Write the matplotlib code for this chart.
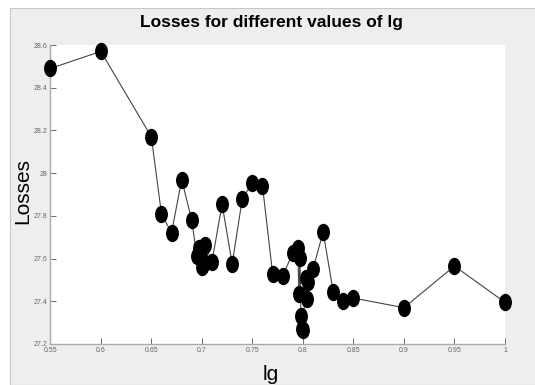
import matplotlib
matplotlib.use("Agg")
import matplotlib.pyplot as plt
from matplotlib.markers import MarkerStyle
from matplotlib.transforms import Affine2D
from matplotlib.patches import Rectangle
from matplotlib.ticker import FuncFormatter

plt.rcParams['font.family'] = ['Liberation Sans', 'DejaVu Sans']

# valores
lg = [0.55, 0.6, 0.65, 0.66, 0.67, 0.68, 0.69, 0.695, 0.697, 0.699, 0.70,
      0.701, 0.703, 0.71, 0.72, 0.73, 0.74, 0.75, 0.76, 0.77, 0.78, 0.79,
      0.795, 0.796, 0.797, 0.798, 0.799, 0.80, 0.803, 0.804, 0.805, 0.81,
      0.82, 0.83, 0.84, 0.85, 0.9, 0.95, 1.0]
losses = [28.49, 28.57, 28.17, 27.81, 27.72, 27.97, 27.78, 27.61, 27.65, 27.61,
          27.56, 27.57, 27.665, 27.585, 27.855, 27.575, 27.88, 27.955, 27.94,
          27.53, 27.52, 27.625, 27.65, 27.435, 27.605, 27.33, 27.27, 27.265,
          27.51, 27.41, 27.49, 27.55, 27.725, 27.445, 27.4, 27.415, 27.37,
          27.565, 27.395]
xticks = [0.55, 0.6, 0.65, 0.7, 0.75, 0.8, 0.85, 0.9, 0.95, 1.0]
yticks = [27.2, 27.4, 27.6, 27.8, 28.0, 28.2, 28.4, 28.6]

fig = plt.figure(figsize=(5.35, 3.85), dpi=100)
fig.patch.set_facecolor('white')
# fondo gris tipo matlab
fig.patches.append(Rectangle((10 / 535, 0), 1, 1 - 8 / 385, transform=fig.transFigure,
                             facecolor='#eeeeee', edgecolor='#c8c8c8', lw=0.8, zorder=-10))

ax = fig.add_axes([50.3 / 535, 41 / 385, (505 - 50.3) / 535, (344 - 45) / 385])
ax.set_facecolor('white')

marca = MarkerStyle('o', transform=Affine2D().scale(0.72, 1.0))
ax.plot(lg, losses, color='#444444', lw=0.8, marker=marca, markersize=11.5,
        markerfacecolor='black', markeredgecolor='black', clip_on=False, zorder=3)

ax.set_xlim(0.55, 1.0)
ax.set_ylim(27.2, 28.6)
ax.set_xticks(xticks)
ax.set_yticks(yticks)
ax.xaxis.set_major_formatter(FuncFormatter(lambda v, p: '%g' % round(v, 2)))
ax.yaxis.set_major_formatter(FuncFormatter(lambda v, p: '%g' % round(v, 1)))
ax.tick_params(direction='in', length=4, width=0.6, colors='#555555', labelsize=5,
               labelcolor='#666666', pad=2)

for s in ['top', 'right']:
    ax.spines[s].set_visible(False)
for s in ['bottom', 'left']:
    ax.spines[s].set_color('#aaaaaa')
    ax.spines[s].set_linewidth(1.0)

fig.text(271.5 / 535, 1 - 22 / 385, 'Losses for different values of lg', ha='center',
         va='center', fontsize=12.5, fontweight='bold')
fig.text(23 / 535, 1 - 191 / 385, 'Losses', rotation=90, ha='center', va='center',
         fontsize=15)
fig.text(271 / 535, 1 - 375 / 385, 'lg', ha='center', va='center', fontsize=15)

fig.savefig('out.png', dpi=100)
